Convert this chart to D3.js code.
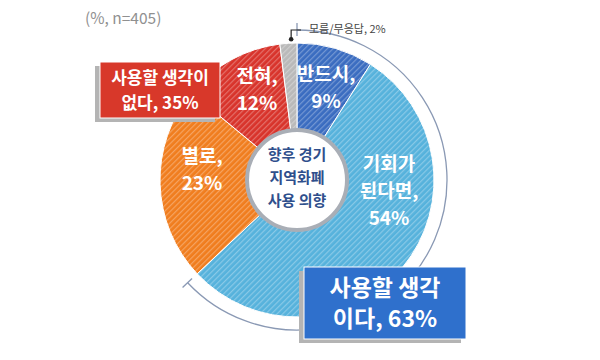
<!DOCTYPE html>
<html>
<head>
<meta charset="utf-8">
<script src="https://cdn.jsdelivr.net/npm/d3@7"></script>
<style>
body { margin: 0; background: #fff; }
text { font-family: "Noto Sans CJK KR", "Noto Sans", sans-serif; }
</style>
</head>
<body>
<svg width="600" height="360"></svg>
<script>
// data
var categories = ["반드시", "기회가 된다면", "별로", "전혀", "모름/무응답"];
var values = [9, 54, 23, 12, 2];
var sliceLabels = [["반드시,", "9%"], ["기회가", "된다면,", "54%"], ["별로,", "23%"], ["전혀,", "12%"], []];
var groupLabels = [["사용할 생각", "이다, 63%"], ["사용할 생각이", "없다, 35%"]];
var centerLabel = ["향후 경기", "지역화폐", "사용 의향"];
var note = "(%, n=405)";
var dkLabel = "모름/무응답, 2%";

var colors = ["#3a6cc0", "#56b2dc", "#f07d1e", "#d8332b", "#b9b9b9"];

var svg = d3.select("svg");
var cx = 297, cy = 180, R = 137;

// hatch patterns
var defs = svg.append("defs");
colors.forEach(function (c, i) {
  var p = defs.append("pattern")
    .attr("id", "hatch" + i)
    .attr("patternUnits", "userSpaceOnUse")
    .attr("width", 4).attr("height", 4)
    .attr("patternTransform", "rotate(45)");
  p.append("rect").attr("width", 4).attr("height", 4).attr("fill", c);
  p.append("rect").attr("width", 1.2).attr("height", 4).attr("fill", "#fff").attr("opacity", 0.3);
});

svg.append("text")
  .attr("x", 85).attr("y", 24)
  .attr("font-size", "15.5px")
  .attr("fill", "#909090")
  .text(note);

var g = svg.append("g").attr("transform", "translate(" + cx + "," + cy + ")");

var pie = d3.pie().sort(null).value(function (d) { return d; });
var arcs = pie(values);
var arc = d3.arc().innerRadius(0).outerRadius(R);

g.selectAll(".slice")
  .data(arcs)
  .enter()
  .append("path")
  .attr("class", "slice")
  .attr("d", arc)
  .attr("fill", function (d, i) { return "url(#hatch" + i + ")"; })
  .attr("stroke", "#fff")
  .attr("stroke-width", 1);

// bracket arc for "사용할 생각이다"
var total = d3.sum(values);
var yesEnd = (values[0] + values[1]) / total * 2 * Math.PI;
var bracket = d3.arc().innerRadius(150).outerRadius(150).startAngle(0).endAngle(yesEnd);
g.append("path")
  .attr("d", bracket)
  .attr("fill", "none")
  .attr("stroke", "#8a99b4")
  .attr("stroke-width", 1.3);
[0, yesEnd].forEach(function (a) {
  g.append("line")
    .attr("x1", 144 * Math.sin(a)).attr("y1", -144 * Math.cos(a))
    .attr("x2", 157 * Math.sin(a)).attr("y2", -157 * Math.cos(a))
    .attr("stroke", "#8a99b4")
    .attr("stroke-width", 1.3);
});

// center circle
g.append("circle")
  .attr("r", 50)
  .attr("fill", "#fff")
  .attr("stroke", "#a9aeb6")
  .attr("stroke-width", 4);
g.append("text")
  .attr("text-anchor", "middle")
  .attr("font-size", "15px")
  .attr("font-weight", "bold")
  .attr("fill", "#2f4f8c")
  .selectAll("tspan")
  .data(centerLabel)
  .enter()
  .append("tspan")
  .attr("x", 0)
  .attr("y", function (d, i) { return -20 + i * 23; })
  .text(function (d) { return d; });

// slice labels
var labelArc = d3.arc().innerRadius(100).outerRadius(100);
var lineH = 27;
g.selectAll(".slabel")
  .data(arcs)
  .enter()
  .append("text")
  .attr("class", "slabel")
  .attr("text-anchor", "middle")
  .attr("font-size", "19px")
  .attr("font-weight", "bold")
  .attr("fill", "#fff")
  .attr("transform", function (d, i) {
    var c = labelArc.centroid(d);
    if (i === 1) c = [92, 12];
    if (i === 2) c = [-95, -10];
    if (i === 3) c = [-40, -90];
    if (i === 0) c = [29, -92];
    return "translate(" + c + ")";
  })
  .each(function (d, i) {
    var lines = sliceLabels[i];
    d3.select(this).selectAll("tspan")
      .data(lines)
      .enter()
      .append("tspan")
      .attr("x", 0)
      .attr("y", function (t, j) { return (j - (lines.length - 1) / 2) * lineH + 6; })
      .text(function (t) { return t; });
  });

// don't know leader
var dk = arcs[4];
var dkA = (dk.startAngle + dk.endAngle) / 2;
var dx0 = 141 * Math.sin(dkA), dy0 = -141 * Math.cos(dkA);
g.append("circle").attr("cx", dx0 + 3).attr("cy", dy0).attr("r", 2.3).attr("fill", "#222");
g.append("path")
  .attr("d", "M" + (dx0 + 3) + "," + dy0 + "V-150H4")
  .attr("fill", "none")
  .attr("stroke", "#222")
  .attr("stroke-width", 1.2);
svg.append("text")
  .attr("x", 309).attr("y", 33)
  .attr("font-size", "11px")
  .attr("fill", "#444")
  .text(dkLabel);

// group boxes
function box(x, y, w, h, fill, lines, fs, lh) {
  svg.append("rect")
    .attr("x", x - 5).attr("y", y + 4).attr("width", w).attr("height", h)
    .attr("fill", "#b4b4b4");
  svg.append("rect")
    .attr("x", x).attr("y", y).attr("width", w).attr("height", h)
    .attr("fill", fill)
    .attr("stroke", "#fff")
    .attr("stroke-width", 1);
  svg.append("text")
    .attr("text-anchor", "middle")
    .attr("font-size", fs)
    .attr("font-weight", "bold")
    .attr("fill", "#fff")
    .selectAll("tspan")
    .data(lines)
    .enter()
    .append("tspan")
    .attr("x", x + w / 2)
    .attr("y", function (d, i) { return y + h / 2 + (i - 0.5) * lh + fs * 0.36; })
    .text(function (d) { return d; });
}
box(100, 62, 120, 56, "#d8382a", groupLabels[1], 17, 25);
box(304, 267, 162, 72, "#2f70cc", groupLabels[0], 23, 31);
</script>
</body>
</html>
